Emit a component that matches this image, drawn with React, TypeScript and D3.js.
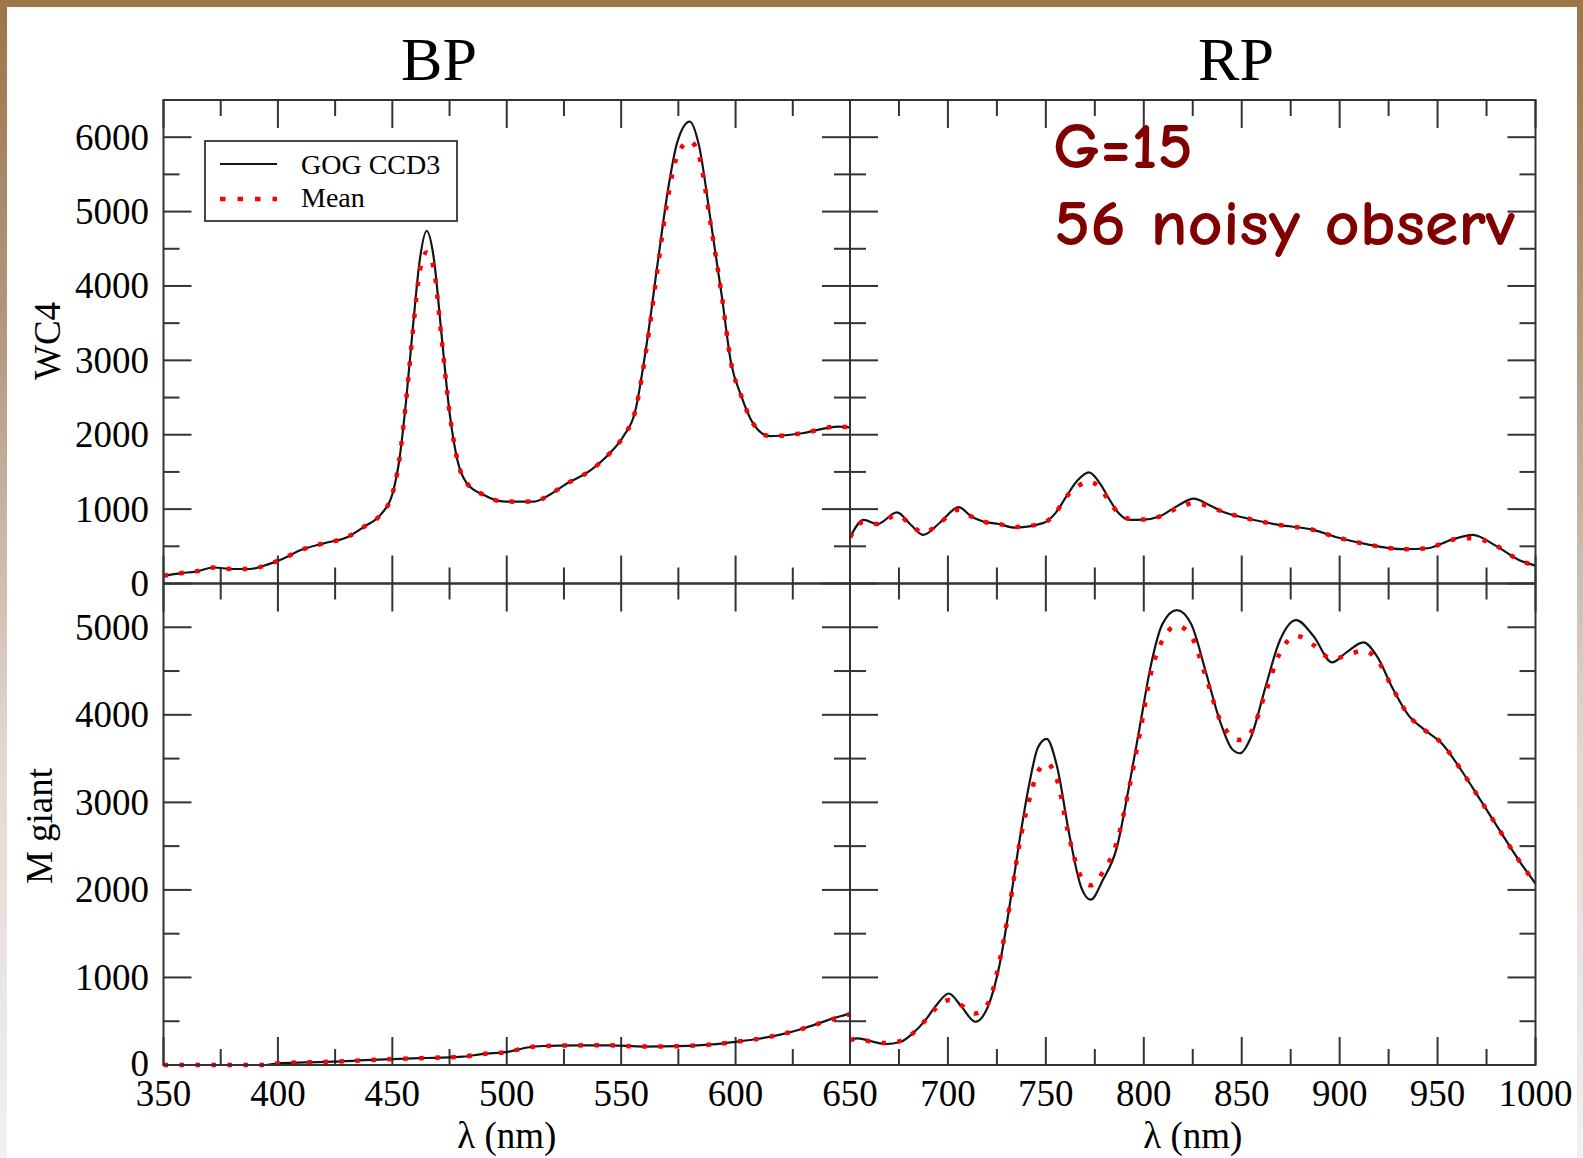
import React from 'react';
import * as d3 from 'd3';

// ---------------- data ----------------
const BP_WC4_WL = [350, 358, 364, 372, 380, 388, 396, 402, 410, 420, 430, 438, 445, 450, 453, 456, 459, 462, 465, 468, 471.5, 475, 478.5, 482.5, 490, 498, 505, 512, 518, 525, 537, 545, 551, 556, 561, 566, 570.5, 574.5, 580, 584, 589, 594, 598, 602.5, 607.5, 615, 629, 645, 650];
const BP_WC4_GOG = [105, 140, 160, 215, 195, 195, 260, 330, 450, 540, 620, 770, 930, 1200, 1650, 2450, 3450, 4350, 4740, 4400, 3350, 2300, 1650, 1350, 1190, 1105, 1100, 1102, 1180, 1320, 1530, 1750, 1980, 2300, 3190, 4320, 5300, 5930, 6210, 5890, 4900, 3860, 2970, 2520, 2160, 1980, 2020, 2110, 2100];
const BP_WC4_MEAN = [105, 140, 160, 215, 195, 195, 260, 330, 450, 540, 620, 770, 930, 1200, 1650, 2450, 3400, 4200, 4450, 4250, 3300, 2300, 1650, 1350, 1190, 1105, 1100, 1102, 1180, 1320, 1530, 1750, 1980, 2300, 3150, 4250, 5200, 5750, 5950, 5750, 4850, 3860, 2970, 2520, 2160, 1980, 2020, 2110, 2100];

const RP_WC4_WL = [650, 657, 664, 674, 681, 687.5, 696, 705.5, 712, 718, 726, 734, 748.5, 755, 760, 766, 772, 778, 782, 787, 792.5, 800, 808, 817, 825.5, 833, 840, 852, 869, 886.5, 899, 913, 933, 945, 957, 968, 979, 991.5, 1000];
const RP_WC4_GOG = [620, 856, 800, 955, 790, 654, 820, 1027, 900, 833, 800, 752, 811, 950, 1150, 1380, 1493, 1330, 1150, 950, 856, 860, 900, 1040, 1140, 1060, 968, 880, 788, 721, 618, 532, 461, 474, 586, 654, 519, 317, 240];
const RP_WC4_MEAN = [620, 830, 800, 920, 790, 680, 820, 990, 900, 833, 800, 760, 811, 950, 1150, 1300, 1372, 1270, 1120, 950, 870, 860, 900, 1010, 1080, 1040, 968, 880, 788, 721, 618, 532, 461, 474, 586, 609, 519, 317, 240];

const BP_MG_WL = [350, 370, 395, 400, 412, 424, 438, 450, 465, 475, 481, 489, 501, 509, 516, 531, 545, 560, 575, 590, 600, 610, 620, 630, 640, 650];
const BP_MG_GOG = [0, 0, 0, 19, 30, 38, 55, 68, 80, 88, 95, 125, 152, 200, 217, 224, 225, 210, 215, 235, 265, 300, 350, 420, 510, 590];
const BP_MG_MEAN = [0, 0, 0, 19, 30, 38, 55, 68, 80, 88, 95, 125, 152, 200, 217, 224, 225, 210, 215, 235, 265, 300, 350, 420, 505, 580];

const RP_MG_WL = [650, 654, 661, 668, 676, 682, 688.5, 694, 700.4, 707, 714, 720.4, 726.5, 731.4, 736.3, 741.2, 746, 750.4, 755.8, 761.9, 768, 772.9, 779, 786.3, 792.4, 798.5, 803.4, 809.5, 816.9, 824.2, 831.5, 838.8, 845, 849.1, 854.7, 862.1, 869.4, 877.9, 886.5, 896.2, 903.5, 912.1, 919.4, 926.8, 935.3, 942.7, 952.4, 962.2, 972, 981.7, 991.5, 1000];
const RP_MG_GOG = [290, 304, 270, 239, 266, 360, 513, 680, 817, 665, 494, 665, 1160, 1805, 2528, 3173, 3629, 3725, 3401, 2642, 2033, 1889, 2109, 2489, 3173, 3934, 4542, 5036, 5196, 5036, 4504, 3934, 3611, 3561, 3744, 4314, 4846, 5082, 4903, 4599, 4713, 4827, 4656, 4314, 3991, 3839, 3668, 3364, 3022, 2680, 2338, 2072];
const RP_MG_MEAN = [285, 300, 265, 250, 275, 360, 510, 650, 741, 680, 589, 700, 1200, 1800, 2500, 3000, 3350, 3447, 3250, 2600, 2150, 2052, 2200, 2550, 3150, 3850, 4450, 4850, 5017, 4900, 4450, 3950, 3750, 3713, 3800, 4250, 4700, 4903, 4800, 4637, 4680, 4732, 4620, 4314, 3991, 3839, 3668, 3364, 3022, 2680, 2338, 2072];

const BP_XTICK_LABELS = [350, 400, 450, 500, 550, 600, 650];
const RP_XTICK_LABELS = [700, 750, 800, 850, 900, 950, 1000];
const TOP_YTICK_LABELS = [0, 1000, 2000, 3000, 4000, 5000, 6000];
const BOT_YTICK_LABELS = [0, 1000, 2000, 3000, 4000, 5000];

const COL_TITLES = ['BP', 'RP'];
const ROW_TITLES = ['WC4', 'M giant'];
const LEGEND_LABELS = ['GOG CCD3', 'Mean'];
const NOTE_LINES = ['G=15', '56 noisy observ'];
// --------------------------------------

const W = 1583;
const H = 1158;
const SERIF = '"Liberation Serif", "Times New Roman", serif';
const FRAME = '#333';
const LINE = '#151515';
const RED = '#ff0000';

const xBP = d3.scaleLinear().domain([350, 650]).range([163.5, 850]);
const xRP = d3.scaleLinear().domain([650, 1000]).range([850, 1535.5]);
const yTop = d3.scaleLinear().domain([0, 6500]).range([583.5, 100]);
const yBot = d3.scaleLinear().domain([0, 5500]).range([1065, 583.5]);

const MAJ = 28;
const MIN = 16;

function Panel({ id, x, y, wl, gog, mean }: any) {
  const [x0, x1] = x.range();
  const [y0, y1] = y.range(); // y0 bottom, y1 top
  const xd = x.domain();
  const yd = y.domain();
  const xMaj = d3.range(xd[0], xd[1] + 0.1, 50);
  const xMin = d3.range(xd[0] + 25, xd[1], 50);
  const yMaj = d3.range(yd[0], yd[1], 1000);
  const yMin = d3.range(yd[0] + 500, yd[1] - 1, 1000);
  const line = d3
    .line<number>()
    .x((_, i) => x(wl[i]))
    .y((v) => y(v))
    .curve(d3.curveMonotoneX);
  const ticks: any[] = [];
  const addX = (v: number, len: number, k: string) => {
    const px = x(v);
    ticks.push(<line key={'xb' + k} x1={px} x2={px} y1={y0} y2={y0 - len} />);
    ticks.push(<line key={'xt' + k} x1={px} x2={px} y1={y1} y2={y1 + len} />);
  };
  const addY = (v: number, len: number, k: string) => {
    const py = y(v);
    ticks.push(<line key={'yl' + k} x1={x0} x2={x0 + len} y1={py} y2={py} />);
    ticks.push(<line key={'yr' + k} x1={x1} x2={x1 - len} y1={py} y2={py} />);
  };
  xMaj.forEach((v, i) => addX(v, MAJ, 'M' + i));
  xMin.forEach((v, i) => addX(v, MIN, 'm' + i));
  yMaj.forEach((v, i) => addY(v, MAJ, 'M' + i));
  yMin.forEach((v, i) => addY(v, MIN, 'm' + i));
  return (
    <g>
      <defs>
        <clipPath id={'clip-' + id}>
          <rect x={x0 - 1} y={y1 - 3} width={x1 - x0 + 2} height={y0 - y1 + 6} />
        </clipPath>
      </defs>
      <g stroke={FRAME} strokeWidth={2}>{ticks}</g>
      <g clipPath={`url(#clip-${id})`} fill="none">
        <path d={line(gog) || ''} stroke={LINE} strokeWidth={2.2} />
        <path d={line(mean) || ''} stroke={RED} strokeWidth={4.5} strokeDasharray="4.5 11.5" />
      </g>
      <rect x={x0} y={y1} width={x1 - x0} height={y0 - y1} fill="none" stroke={FRAME} strokeWidth={2} />
    </g>
  );
}

export default function App() {
  return (
    <svg
      width={W}
      height={H}
      viewBox={`0 0 ${W} ${H}`}
      style={{ position: 'absolute', left: 0, top: 0, display: 'block' }}
      fontFamily={SERIF}
    >
      <defs>
        <linearGradient id="bg" x1="0" y1="0" x2="0" y2="1">
          <stop offset="0" stopColor="#9c7448" />
          <stop offset="0.3" stopColor="#b49a84" />
          <stop offset="0.65" stopColor="#e2d8d2" />
          <stop offset="1" stopColor="#f3f0ee" />
        </linearGradient>
      </defs>
      <rect x={0} y={0} width={W} height={H} fill="url(#bg)" />
      <rect x={0} y={0} width={W} height={7} fill="#9e7649" />
      <rect x={7} y={7} width={1570} height={H - 7} fill="#ffffff" />

      {/* column titles */}
      <text x={439} y={80} fontSize={62} textAnchor="middle" fill="#000">{COL_TITLES[0]}</text>
      <text x={1236} y={80} fontSize={62} textAnchor="middle" fill="#000">{COL_TITLES[1]}</text>

      <Panel id="bpwc4" x={xBP} y={yTop} wl={BP_WC4_WL} gog={BP_WC4_GOG} mean={BP_WC4_MEAN} />
      <Panel id="rpwc4" x={xRP} y={yTop} wl={RP_WC4_WL} gog={RP_WC4_GOG} mean={RP_WC4_MEAN} />
      <Panel id="bpmg" x={xBP} y={yBot} wl={BP_MG_WL} gog={BP_MG_GOG} mean={BP_MG_MEAN} />
      <Panel id="rpmg" x={xRP} y={yBot} wl={RP_MG_WL} gog={RP_MG_GOG} mean={RP_MG_MEAN} />

      {/* y tick labels */}
      <g fontSize={37} textAnchor="end" fill="#000">
        {TOP_YTICK_LABELS.map((v) => (
          <text key={'t' + v} x={149} y={yTop(v) + 12.5}>{v}</text>
        ))}
        {BOT_YTICK_LABELS.map((v) => (
          <text key={'b' + v} x={149} y={yBot(v) + (v === 0 ? 11 : 12.5)}>{v}</text>
        ))}
      </g>

      {/* x tick labels */}
      <g fontSize={37} textAnchor="middle" fill="#000">
        {BP_XTICK_LABELS.map((v) => (
          <text key={'bp' + v} x={xBP(v)} y={1106}>{v}</text>
        ))}
        {RP_XTICK_LABELS.map((v) => (
          <text key={'rp' + v} x={xRP(v)} y={1106}>{v}</text>
        ))}
      </g>

      {/* axis titles */}
      <text x={(xBP.range()[0] + xBP.range()[1]) / 2} y={1148} fontSize={37} textAnchor="middle">λ (nm)</text>
      <text x={(xRP.range()[0] + xRP.range()[1]) / 2} y={1148} fontSize={37} textAnchor="middle">λ (nm)</text>
      <text transform="translate(60,341) rotate(-90)" fontSize={37} textAnchor="middle">{ROW_TITLES[0]}</text>
      <text transform="translate(52,826) rotate(-90)" fontSize={37} textAnchor="middle">{ROW_TITLES[1]}</text>

      {/* legend */}
      <g>
        <rect x={205} y={141} width={252} height={80} fill="#fff" stroke={FRAME} strokeWidth={1.8} />
        <line x1={220} x2={277} y1={164} y2={164} stroke={LINE} strokeWidth={2} />
        <line x1={220} x2={277} y1={199} y2={199} stroke={RED} strokeWidth={4.5} strokeDasharray="5.5 12" />
        <text x={301} y={174} fontSize={28}>{LEGEND_LABELS[0]}</text>
        <text x={301} y={207} fontSize={28}>{LEGEND_LABELS[1]}</text>
      </g>

      {/* annotation */}
      <g fill="#800000" fontFamily='"Comic Sans MS", "Comic Neue", Lato, sans-serif' fontSize={64} fontWeight="bold">
        <text x={1053} y={168} textLength={140} lengthAdjust="spacingAndGlyphs">{NOTE_LINES[0]}</text>
        <text x={1054} y={245} textLength={461} lengthAdjust="spacingAndGlyphs">{NOTE_LINES[1]}</text>
      </g>
    </svg>
  );
}
